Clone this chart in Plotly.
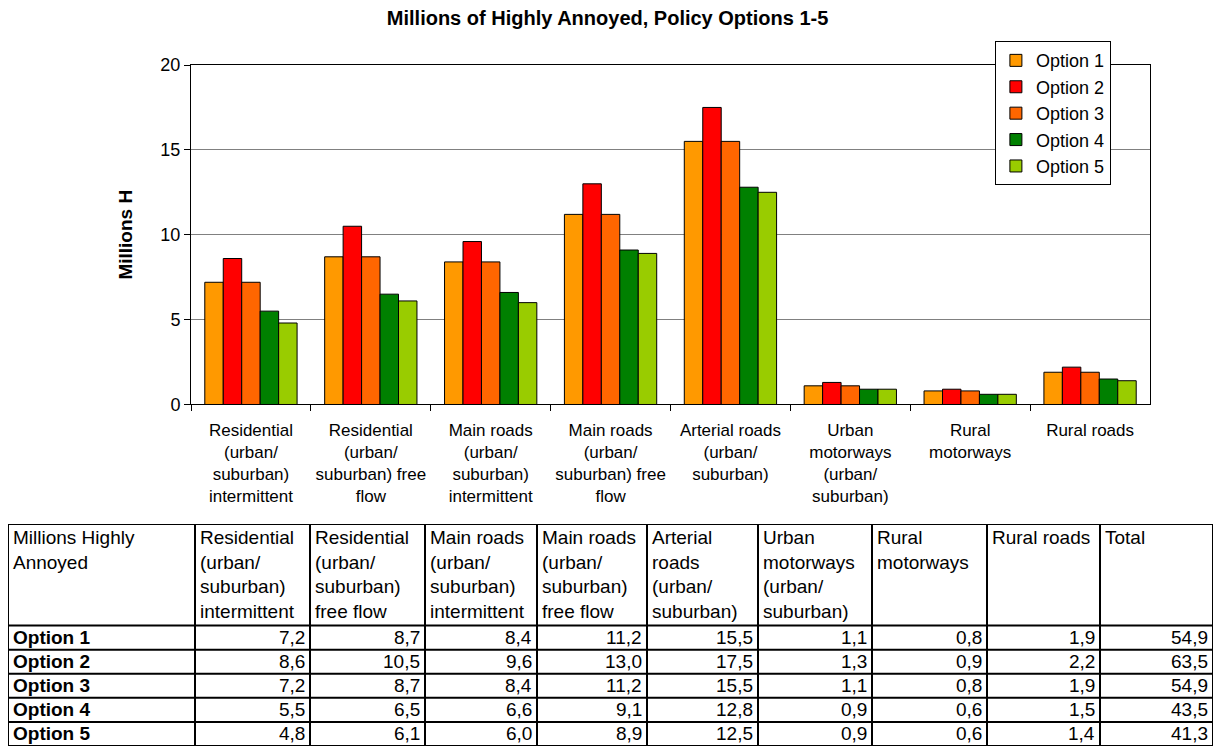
"""Millions of highly annoyed people per road type, policy options 1-5."""

import plotly.graph_objects as go

# categories (chart tick labels and table headers)
chart_labels = [
    "Residential<br>(urban/<br>suburban)<br>intermittent",
    "Residential<br>(urban/<br>suburban) free<br>flow",
    "Main roads<br>(urban/<br>suburban)<br>intermittent",
    "Main roads<br>(urban/<br>suburban) free<br>flow",
    "Arterial roads<br>(urban/<br>suburban)",
    "Urban<br>motorways<br>(urban/<br>suburban)",
    "Rural<br>motorways",
    "Rural roads",
]
table_headers = [
    "Millions Highly<br>Annoyed",
    "Residential<br>(urban/<br>suburban)<br>intermittent",
    "Residential<br>(urban/<br>suburban)<br>free flow",
    "Main roads<br>(urban/<br>suburban)<br>intermittent",
    "Main roads<br>(urban/<br>suburban)<br>free flow",
    "Arterial<br>roads<br>(urban/<br>suburban)",
    "Urban<br>motorways<br>(urban/<br>suburban)",
    "Rural<br>motorways",
    "Rural roads",
    "Total",
]

option_names = ["Option 1", "Option 2", "Option 3", "Option 4", "Option 5"]
option_1 = [7.2, 8.7, 8.4, 11.2, 15.5, 1.1, 0.8, 1.9]
option_2 = [8.6, 10.5, 9.6, 13.0, 17.5, 1.3, 0.9, 2.2]
option_3 = [7.2, 8.7, 8.4, 11.2, 15.5, 1.1, 0.8, 1.9]
option_4 = [5.5, 6.5, 6.6, 9.1, 12.8, 0.9, 0.6, 1.5]
option_5 = [4.8, 6.1, 6.0, 8.9, 12.5, 0.9, 0.6, 1.4]
totals = [54.9, 63.5, 54.9, 43.5, 41.3]

colors = ["#FF9900", "#FF0000", "#FF6600", "#008000", "#99CC00"]

series = [option_1, option_2, option_3, option_4, option_5]

# table geometry, in table-axis units (1 unit = 1 px)
col_widths = [187, 115, 115, 112, 110, 111, 114, 115, 113, 113]
header_h = 102
row_h = 24.2
FONT = "Liberation Sans, Arial, sans-serif"


def fmt(value: float) -> str:
    """Decimal comma like the source sheet."""
    return f"{value:.1f}".replace(".", ",")


fig = go.Figure()

for name, values, color in zip(option_names, series, colors):
    fig.add_trace(
        go.Bar(
            x=chart_labels,
            y=values,
            name=name,
            marker={"color": color, "line": {"color": "black", "width": 1}},
        )
    )

# --- data table drawn on its own hidden axes ---
col_edges = [0]
for w in col_widths:
    col_edges.append(col_edges[-1] + w)
row_edges = [0, header_h] + [header_h + row_h * (i + 1) for i in range(len(series))]
table_w = col_edges[-1]
table_h = row_edges[-1]

annotations = []
for j, text in enumerate(table_headers):
    annotations.append(
        dict(
            x=col_edges[j] + 3, y=1, xref="x2", yref="y2", text=text,
            xanchor="left", yanchor="top", align="left", showarrow=False,
        )
    )

row_values = []
for i, values in enumerate(series):
    row_values.append([fmt(v) for v in values] + [fmt(totals[i])])

for i, name in enumerate(option_names):
    y_mid = (row_edges[i + 1] + row_edges[i + 2]) / 2
    annotations.append(
        dict(
            x=col_edges[0] + 3, y=y_mid, xref="x2", yref="y2",
            text=f"<b>{name}</b>", xanchor="left", yanchor="middle",
            showarrow=False,
        )
    )
    for j, text in enumerate(row_values[i]):
        annotations.append(
            dict(
                x=col_edges[j + 2] - 3, y=y_mid, xref="x2", yref="y2",
                text=text, xanchor="right", yanchor="middle", showarrow=False,
            )
        )

shapes = []
for x in col_edges:
    shapes.append(
        dict(type="line", xref="x2", yref="y2", x0=x, x1=x, y0=0, y1=table_h,
             line={"color": "black", "width": 2})
    )
for y in row_edges:
    shapes.append(
        dict(type="line", xref="x2", yref="y2", x0=0, x1=table_w, y0=y, y1=y,
             line={"color": "black", "width": 2})
    )

# invisible point so the table axes exist
fig.add_trace(
    go.Scatter(
        x=[0], y=[0], xaxis="x2", yaxis="y2", mode="markers",
        marker={"opacity": 0}, showlegend=False, hoverinfo="skip",
    )
)

fig.update_layout(
    width=1220,
    height=757,
    autosize=False,
    margin={"l": 8, "r": 7, "t": 64.7, "b": 1},
    paper_bgcolor="white",
    plot_bgcolor="white",
    font={"family": FONT, "size": 19, "color": "black"},
    barmode="group",
    bargap=0.23,
    bargroupgap=0,
    title={
        "text": "<b>Millions of Highly Annoyed, Policy Options 1-5</b>",
        "x": 0.498,
        "xanchor": "center",
        "y": 1 - 18 / 749,
        "yanchor": "middle",
        "font": {"size": 20},
    },
    legend={
        "x": 0.819,
        "y": 1.035,
        "xanchor": "left",
        "yanchor": "top",
        "bgcolor": "white",
        "bordercolor": "black",
        "borderwidth": 1,
        "font": {"size": 18},
    },
    annotations=annotations,
    shapes=shapes,
    xaxis={
        "domain": [0.15187, 0.94772],
        "anchor": "y",
        "showline": True,
        "linecolor": "black",
        "linewidth": 1,
        "mirror": True,
        "ticks": "outside",
        "tickson": "boundaries",
        "ticklen": 6,
        "tickcolor": "black",
        "showgrid": False,
        "tickangle": 0,
        "tickfont": {"size": 17},
        "ticklabelstandoff": 10,
    },
    yaxis={
        "domain": [0.50148, 1.0],
        "anchor": "x",
        "range": [0, 20],
        "dtick": 5,
        "showline": True,
        "linecolor": "black",
        "linewidth": 1,
        "mirror": True,
        "ticks": "outside",
        "ticklen": 6,
        "tickcolor": "black",
        "showgrid": True,
        "gridcolor": "#808080",
        "gridwidth": 1,
        "zeroline": False,
        "tickfont": {"size": 18},
        "title": {"text": "<b>Millions H</b>", "standoff": 22, "font": {"size": 19}},
    },
    xaxis2={
        "domain": [0, 1], "range": [0, table_w], "visible": False,
        "anchor": "y2", "fixedrange": True,
    },
    yaxis2={
        "domain": [0, 0.326], "range": [table_h, 0], "visible": False,
        "anchor": "x2", "fixedrange": True,
    },
)

# drop the default page margin so the figure sits at the window's corner
fig.write_html(
    "out.html",
    config={"responsive": False, "displayModeBar": False},
    post_script="document.body.style.margin='0';document.body.style.overflow='hidden';",
)
